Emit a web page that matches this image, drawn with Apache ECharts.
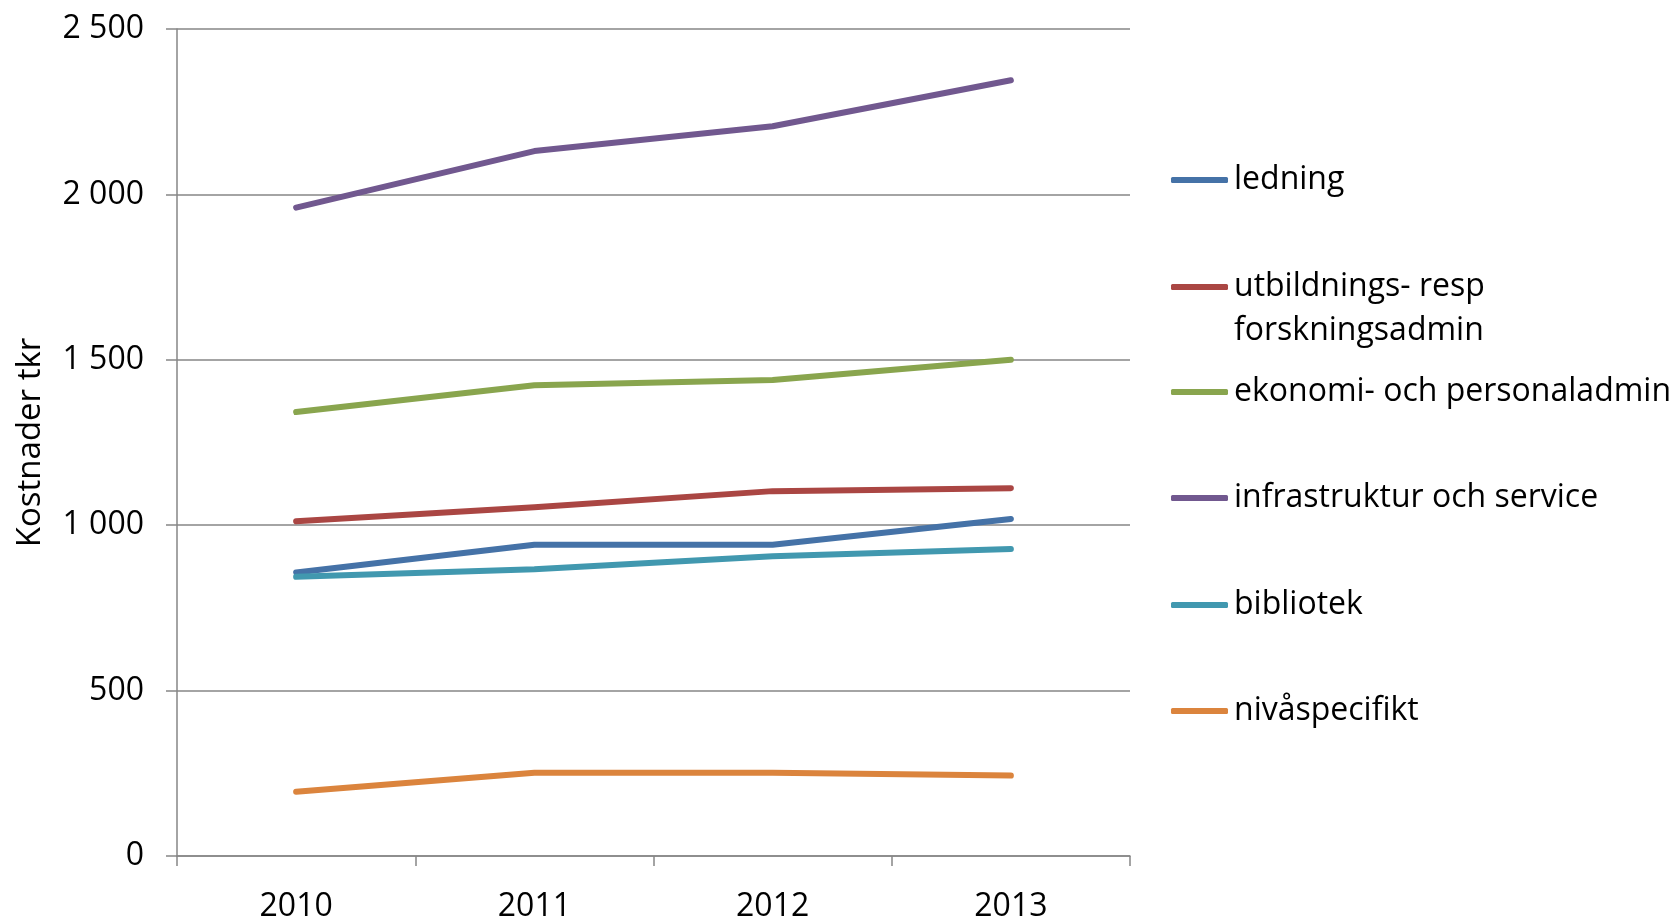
<!DOCTYPE html>
<html>
<head>
<meta charset="utf-8">
<script src="https://cdn.jsdelivr.net/npm/echarts@6/dist/echarts.min.js"></script>
<style>
  html, body { margin: 0; padding: 0; background: #fff; }
  #chart { width: 1677px; height: 920px; }
</style>
</head>
<body>
<div id="chart"></div>
<script>
  // data (kostnader tkr)
  const years = ['2010', '2011', '2012', '2013'];
  const ledning = [857, 941, 941, 1019];
  const utbildning = [1012, 1054, 1103, 1112];
  const ekonomi = [1342, 1423, 1439, 1500];
  const infrastruktur = [1960, 2131, 2206, 2345];
  const bibliotek = [844, 867, 906, 928];
  const nivaspecifikt = [194, 252, 252, 243];
  const names = ['ledning', 'utbildnings- resp\nforskningsadmin', 'ekonomi- och personaladmin',
    'infrastruktur och service', 'bibliotek', 'nivåspecifikt'];

  const colors = ['#4572A7', '#AA4643', '#89A54E', '#71588F', '#4198AF', '#DB843D'];
  const values = [ledning, utbildning, ekonomi, infrastruktur, bibliotek, nivaspecifikt];
  const gridColor = '#868686';
  const font = 'Open Sans';
  const lh = 44;

  const chart = echarts.init(document.getElementById('chart'));

  // one legend per entry so each sits where it does in the original
  const legendY = [180, 287, 392, 498, 605, 711];
  const legends = names.map((n, i) => {
    const multi = n.indexOf('\n') >= 0;
    return {
      data: [n],
      left: 1171,
      // the two-line entry gets a blank first line so its icon lines up with the first text line
      top: multi ? legendY[i] - lh * 1.5 : legendY[i] - lh / 2,
      padding: 0,
      icon: 'roundRect',
      itemWidth: 57,
      itemHeight: 6,
      itemGap: 0,
      selectedMode: false,
      formatter: name => (multi ? '\n' + name : name),
      textStyle: { fontFamily: font, fontSize: 32, color: '#000', lineHeight: lh, padding: [0, 0, 0, 1] }
    };
  });

  const option = {
    animation: false,
    color: colors,
    legend: legends,
    grid: { left: 177, right: 547, top: 29, bottom: 64, outerBoundsMode: 'none' },
    xAxis: {
      type: 'category',
      data: years,
      boundaryGap: true,
      axisLine: { show: true, lineStyle: { color: gridColor, width: 1.5 } },
      axisTick: { show: true, length: 10, lineStyle: { color: gridColor, width: 1.5 } },
      axisLabel: { color: '#000', fontFamily: font, fontSize: 32, margin: 35 },
      splitLine: { show: false }
    },
    yAxis: {
      type: 'value',
      min: 0,
      max: 2500,
      interval: 500,
      name: 'Kostnader tkr',
      nameLocation: 'middle',
      nameGap: 130,
      nameRotate: 90,
      nameTextStyle: { fontFamily: font, fontSize: 33, color: '#000' },
      axisLine: { show: true, lineStyle: { color: gridColor, width: 1.5 } },
      axisTick: { show: true, length: 11, lineStyle: { color: gridColor, width: 1.5 } },
      axisLabel: {
        color: '#000', fontFamily: font, fontSize: 32, margin: 33,
        formatter: v => String(v).replace(/\B(?=(\d{3})+(?!\d))/g, ' ')
      },
      splitLine: { show: true, lineStyle: { color: gridColor, width: 1.5 } }
    },
    series: names.map((n, i) => ({
      name: n,
      type: 'line',
      data: values[i],
      symbol: 'none',
      lineStyle: { width: 6, color: colors[i], cap: 'round', join: 'round' },
      itemStyle: { color: colors[i] }
    }))
  };

  chart.setOption(option);
</script>
</body>
</html>
